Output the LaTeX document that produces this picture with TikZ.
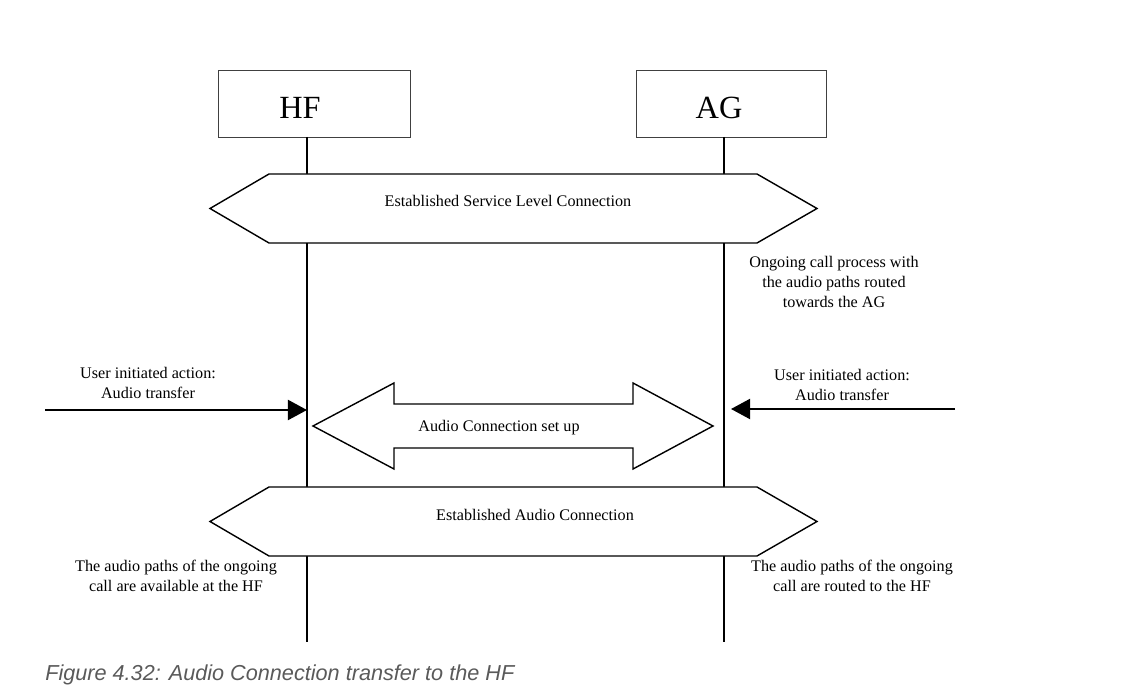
\documentclass[tikz,border=0pt]{standalone}
\usepackage{fontspec}
\setmainfont{Liberation Serif}
\newfontfamily\capfont{Liberation Sans}
\usepackage{xcolor}
\usepackage{tikz}
\usetikzlibrary{arrows.meta,positioning}
\definecolor{capgrey}{HTML}{5A5A5A}
\definecolor{boxgrey}{HTML}{404040}

\begin{document}
\begin{tikzpicture}[
    x=0.025cm, y=-0.025cm,
    every node/.style = {font=\fontsize{11.5}{13.9}\selectfont},
    actor/.style = {draw=boxgrey, line width=0.6pt, minimum width=4.8cm, minimum height=1.675cm, inner sep=0pt},
    actortext/.style = {font=\fontsize{23}{26}\selectfont},
    lifeline/.style = {line width=1.4pt},
    phase/.style = {draw, line width=1pt, fill=white, line join=miter},
    note/.style = {align=center},
    action/.style = {-{Triangle[length=4.75mm, width=5mm]}, line width=1.4pt}
  ]
  \useasboundingbox (0,0) rectangle (1132,694);

  % Teilnehmer
  \node[actor] (hf) at (314,103.5) {};
  \node[actortext] (hflbl) at (300,108) {HF};
  \node[actor, minimum width=4.75cm] (ag) at (731,103.5) {};
  \node[actortext] (aglbl) at (719,108) {AG};

  % Lebenslinien
  \coordinate (hftop) at (307,137);
  \coordinate (hfbot) at (307,642);
  \coordinate (agtop) at (724,137);
  \coordinate (agbot) at (724,642);
  \draw[lifeline] (hftop) -- (hfbot);
  \draw[lifeline] (agtop) -- (agbot);

  % Service Level Connection
  \draw[phase] (210,208.5) -- (269,174) -- (757,174) -- (817,208.5) -- (757,243) -- (269,243) -- cycle;
  \node (slc) at (508,201) {Established Service Level Connection};
  \node[note] (ongoing) at (834,282) {Ongoing call process with\\the audio paths routed\\towards the AG};

  % Benutzeraktion
  \node[note] (hfact) at (148,383) {User initiated action:\\Audio transfer};
  \node[note] (agact) at (842,385) {User initiated action:\\Audio transfer};
  \coordinate (hfuser) at (45,410);
  \coordinate (hfhit) at (307,410);
  \coordinate (aguser) at (955,409);
  \coordinate (aghit) at (731,409);
  \draw[action] (hfuser) -- (hfhit);
  \draw[action] (aguser) -- (aghit);

  % Audio Connection set up
  \draw[phase] (313,426) -- (394,383) -- (394,404) -- (633,404) -- (633,383) -- (713,426)
    -- (633,469) -- (633,448) -- (394,448) -- (394,469) -- cycle;
  \node (acs) at (499,428) {Audio Connection set up};

  % Audio Connection
  \draw[phase] (210,521.5) -- (269,487) -- (757,487) -- (817,521.5) -- (757,556) -- (269,556) -- cycle;
  \node (eac) at (535,515) {Established Audio Connection};
  \node[note] (hfres) at (176,576) {The audio paths of the ongoing\\call are available at the HF};
  \node[note] (agres) at (852,576) {The audio paths of the ongoing\\call are routed to the HF};

  % Bildunterschrift
  \node[anchor=west, text=capgrey, font=\capfont\itshape\fontsize{15.4}{18}\selectfont, inner sep=0pt] (cap) at (45,675) {Figure 4.32: Audio Connection transfer to the HF};
\end{tikzpicture}
\end{document}
